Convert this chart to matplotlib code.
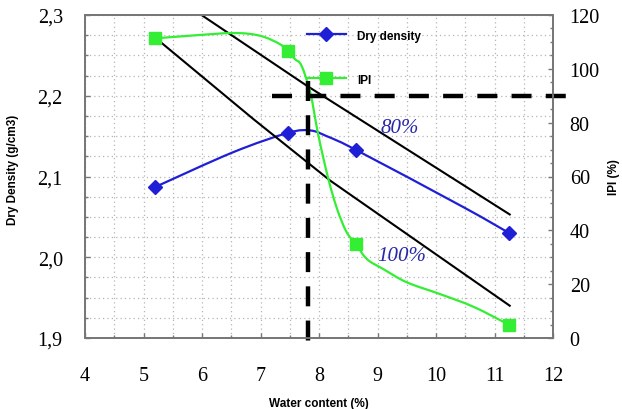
import matplotlib
matplotlib.use("Agg")
import matplotlib.pyplot as plt
import matplotlib.lines as mlines
from matplotlib.path import Path
from matplotlib.patches import PathPatch
from matplotlib.ticker import FuncFormatter, MultipleLocator

# measured points
w = [5.2, 7.47, 8.63, 11.25]
dry_density = [2.087, 2.154, 2.133, 2.030]
ipi = [111.3, 106.5, 34.9, 4.9]

# smoothed curve paths as drawn in the original
dd_curve_x = [5.2, 6.53, 7.47, 7.85, 8.13, 8.63, 10.47, 11.25]
dd_curve_y = [2.087, 2.130, 2.154, 2.157, 2.150, 2.133, 2.062, 2.030]
ipi_curve_x = [5.2, 5.79, 6.54, 6.99, 7.33, 7.47, 7.59, 7.70, 7.85, 7.99, 8.16, 8.31, 8.47, 8.63,
               8.82, 9.10, 9.50, 10.07, 10.64, 11.25]
ipi_curve_y = [111.3, 112.3, 113.3, 112.3, 109.2, 106.5, 103.6, 101.2, 91.3, 75.2, 59.1, 47.9, 39.4, 34.9,
               29.3, 25.6, 20.7, 16.3, 11.6, 4.9]

# saturation lines
sat80_x = [5.95, 7.79, 11.26]
sat80_y = [2.302, 2.2125, 2.053]
sat100_x = [5.2, 6.88, 8.19, 11.26]
sat100_y = [2.272, 2.171, 2.095, 1.940]

# optimum lines
opt_w = 7.81
opt_ipi = 90.0

blue = '#1f1fd6'
green = '#33ee33'
serif = 'Liberation Serif'
sans = 'Liberation Sans'


def smooth(ax, xs, ys, **kw):
    # catmull-rom through the points, drawn as cubic bezier segments
    pts = list(zip(xs, ys))
    verts = [pts[0]]
    codes = [Path.MOVETO]
    for i in range(len(pts) - 1):
        p0 = pts[max(i - 1, 0)]
        p1 = pts[i]
        p2 = pts[i + 1]
        p3 = pts[min(i + 2, len(pts) - 1)]
        c1 = (p1[0] + (p2[0] - p0[0]) / 6, p1[1] + (p2[1] - p0[1]) / 6)
        c2 = (p2[0] - (p3[0] - p1[0]) / 6, p2[1] - (p3[1] - p1[1]) / 6)
        verts += [c1, c2, p2]
        codes += [Path.CURVE4] * 3
    ax.add_patch(PathPatch(Path(verts, codes), fill=False, **kw))


fig = plt.figure(figsize=(6.22, 4.10), dpi=100)
ax = fig.add_axes([85/622, 1-339/410, (553-85)/622, (339-16)/410])
ax2 = ax.twinx()

ax.set_xlim(4, 12)
ax.set_ylim(1.9, 2.3)
ax2.set_ylim(0, 120)

ax.xaxis.set_major_locator(MultipleLocator(1))
ax.xaxis.set_minor_locator(MultipleLocator(0.5))
ax.yaxis.set_major_locator(MultipleLocator(0.1))
ax.yaxis.set_minor_locator(MultipleLocator(0.025))
ax2.yaxis.set_major_locator(MultipleLocator(20))
ax2.yaxis.set_minor_locator(MultipleLocator(5))

ax.grid(True, which='both', color='#b5b5b5', linestyle=(0, (1, 2.5)), linewidth=0.9)
ax.set_axisbelow(True)

ax.yaxis.set_major_formatter(FuncFormatter(lambda v, p: '{:.1f}'.format(v).replace('.', ',')))
ax.tick_params(axis='both', which='both', direction='in', colors='#777777', labelcolor='black',
               labelsize=14.5, width=1)
ax.tick_params(axis='y', pad=16)
ax.tick_params(axis='x', pad=20)
ax2.tick_params(axis='y', which='both', direction='in', colors='#777777', labelcolor='black',
                labelsize=14.5, pad=12, width=1)
for a in (ax, ax2):
    for lab in a.get_xticklabels() + a.get_yticklabels():
        lab.set_fontfamily(serif)
    for s in a.spines.values():
        s.set_color('#777777')
        s.set_linewidth(1.3)

# saturation lines and density curve
ax.plot(sat80_x, sat80_y, color='black', lw=1.5)
ax.plot(sat100_x, sat100_y, color='black', lw=1.5)
smooth(ax, dd_curve_x, dd_curve_y, edgecolor=blue, lw=1.6)
ax.plot(w, dry_density, linestyle='none', marker='D', color=blue, markersize=7)

# IPI curve
smooth(ax2, ipi_curve_x, ipi_curve_y, edgecolor=green, lw=1.6)
ax2.plot(w, ipi, linestyle='none', marker='s', color=green, markersize=9)

# optimum dashed lines
ax2.plot([7.2, 12.24], [opt_ipi, opt_ipi], color='black', lw=3.2, dashes=(4.5, 3.2), clip_on=False)
ax2.plot([opt_w, opt_w], [95.5, -3], color='black', lw=3.2, dashes=(4.5, 3.2), clip_on=False)

ax.text(9.38, 2.161, '80%', color='#2828a8', fontsize=15, style='italic', family=serif,
        ha='center', va='center')
ax.text(9.42, 2.002, '100%', color='#2828a8', fontsize=15, style='italic', family=serif,
        ha='center', va='center')

ax.set_xlabel('Water content (%)', fontsize=8.5, fontweight='bold', family=sans)
ax.xaxis.set_label_coords(0.5, -0.183)
ax.set_ylabel('Dry Density (g/cm3)', fontsize=8.5, fontweight='bold', family=sans)
ax.yaxis.set_label_coords(-0.141, 0.523)
ax2.set_ylabel('IPI (%)', fontsize=8.5, fontweight='bold', family=sans)
ax2.yaxis.set_label_coords(1.1175, 0.5)

h1 = mlines.Line2D([], [], color=blue, marker='D', markersize=7, lw=1.6)
h2 = mlines.Line2D([], [], color=green, marker='s', markersize=9, lw=1.6)
leg = ax2.legend([h1, h2], ['Dry density', 'IPI'], loc='upper left',
                 bbox_to_anchor=(296/622, 1-20/410), bbox_transform=fig.transFigure,
                 frameon=False, prop={'family': sans, 'weight': 'bold', 'size': 8.5},
                 labelspacing=2.7, handlelength=3.3, handletextpad=1.0)

fig.savefig('out.png', dpi=100)
